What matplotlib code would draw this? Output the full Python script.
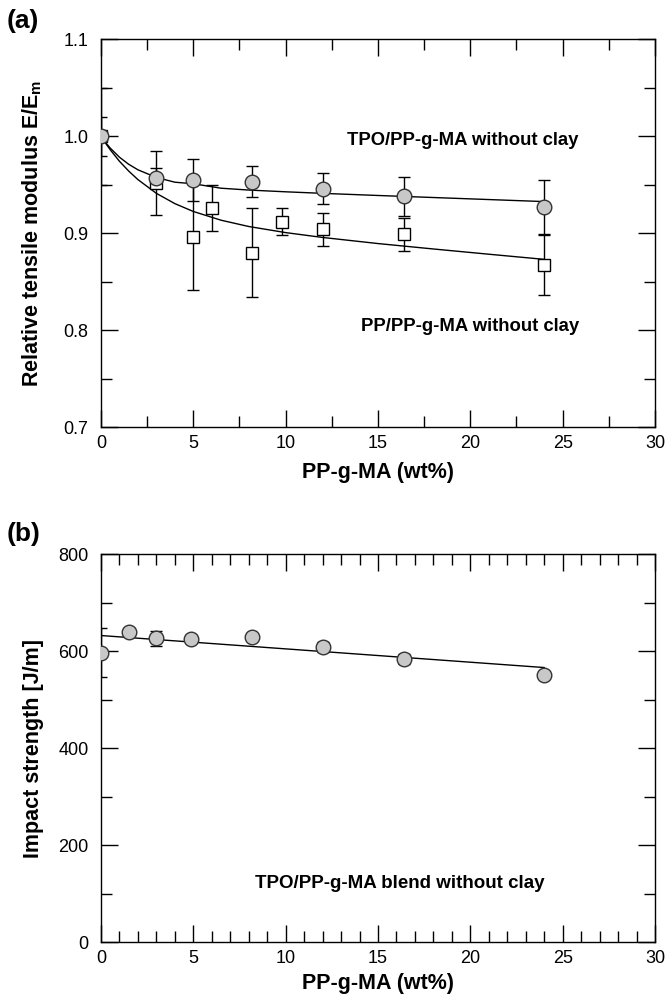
import matplotlib
matplotlib.use("Agg")
import matplotlib.pyplot as plt
from matplotlib.ticker import MultipleLocator, FormatStrFormatter

plt.rcParams["font.family"] = ["Liberation Sans", "DejaVu Sans"]

# (a) relative tensile modulus
tpo_x = [0, 3, 5, 8.2, 12, 16.4, 24]
tpo_y = [1.0, 0.957, 0.955, 0.953, 0.946, 0.938, 0.927]
tpo_err = [0.02, 0.01, 0.022, 0.016, 0.016, 0.02, 0.028]

pp_x = [0, 3, 5, 6, 8.2, 9.8, 12, 16.4, 24]
pp_y = [1.0, 0.952, 0.896, 0.926, 0.880, 0.912, 0.904, 0.899, 0.867]
pp_err = [0.05, 0.033, 0.055, 0.024, 0.046, 0.014, 0.017, 0.017, 0.031]

# fitted curves
fit_x = [0, 0.25, 0.5, 1, 1.5, 2, 3, 4, 5, 6.5, 8, 10, 12, 15, 18, 21, 24]
tpo_fit = [1.0, 0.9935, 0.9878, 0.9784, 0.9711, 0.9654, 0.9575, 0.9526, 0.951,
           0.9464, 0.9445, 0.9427, 0.9411, 0.9389, 0.9368, 0.9347, 0.9326]
pp_fit = [1.0, 0.9928, 0.9861, 0.9742, 0.9641, 0.9553, 0.9411, 0.9305, 0.9224,
          0.9134, 0.9069, 0.9006, 0.8956, 0.8893, 0.8837, 0.8783, 0.873]

# (b) impact strength
imp_x = [0, 1.5, 3, 4.9, 8.2, 12, 16.4, 24]
imp_y = [597, 640, 626, 625, 630, 608, 584, 551]
imp_err = [51, 8, 15, 8, 6, 10, 10, 6]
imp_fit_x = [0, 24]
imp_fit_y = [632, 566]

GRAY = "#c8c8c8"


def style_axes(ax, xminor, ymajor, yminor):
    ax.set_xlim(0, 30)
    ax.xaxis.set_major_locator(MultipleLocator(5))
    ax.xaxis.set_minor_locator(MultipleLocator(xminor))
    ax.yaxis.set_major_locator(MultipleLocator(ymajor))
    ax.yaxis.set_minor_locator(MultipleLocator(yminor))
    ax.tick_params(which="both", direction="in", top=True, right=True,
                   width=1.0, labelsize=13)
    ax.tick_params(axis="y", pad=9)
    ax.tick_params(axis="x", pad=6)
    ax.tick_params(which="major", length=12)
    ax.tick_params(which="minor", length=8)
    for sp in ax.spines.values():
        sp.set_linewidth(1.0)


fig = plt.figure(figsize=(6.67, 10.01), dpi=100)
ax_a = fig.add_axes([0.1514, 0.5734, 0.8306, 0.3873])
ax_b = fig.add_axes([0.1514, 0.0589, 0.8306, 0.3876])

# panel (a)
ax_a.plot(fit_x, tpo_fit, color="k", lw=1.0, zorder=2)
ax_a.plot(fit_x, pp_fit, color="k", lw=1.0, zorder=2)
ax_a.errorbar(pp_x, pp_y, yerr=pp_err, fmt="none", ecolor="k", elinewidth=1.0,
              capsize=4.5, capthick=1.0, zorder=3)
ax_a.errorbar(tpo_x, tpo_y, yerr=tpo_err, fmt="none", ecolor="k", elinewidth=1.0,
              capsize=4.5, capthick=1.0, zorder=3)
ax_a.plot(pp_x, pp_y, "s", ms=8.5, mfc="white", mec="k", mew=1.0, zorder=4)
ax_a.plot(tpo_x, tpo_y, "o", ms=10.5, mfc=GRAY, mec="#333333", mew=1.0, zorder=5)
ax_a.set_ylim(0.7, 1.1)
style_axes(ax_a, 2.5, 0.1, 0.05)
ax_a.yaxis.set_major_formatter(FormatStrFormatter("%.1f"))
ax_a.set_xlabel("PP-g-MA (wt%)", fontsize=15.5, fontweight="bold")
ax_a.set_ylabel("Relative tensile modulus E/E$_\\mathregular{m}$", fontsize=15.5,
                fontweight="bold")
ax_a.xaxis.set_label_coords(0.5, -0.09)
ax_a.yaxis.set_label_coords(-0.102, 0.5)
ax_a.text(19.6, 0.996, "TPO/PP-g-MA without clay", fontsize=13.3, fontweight="bold",
          ha="center", va="center")
ax_a.text(20.0, 0.804, "PP/PP-g-MA without clay", fontsize=13.3, fontweight="bold",
          ha="center", va="center")

# panel (b)
ax_b.plot(imp_fit_x, imp_fit_y, color="k", lw=1.0, zorder=2)
ax_b.errorbar(imp_x, imp_y, yerr=imp_err, fmt="none", ecolor="k", elinewidth=1.0,
              capsize=4.5, capthick=1.0, zorder=3)
ax_b.plot(imp_x, imp_y, "o", ms=10.5, mfc=GRAY, mec="#333333", mew=1.0, zorder=5)
ax_b.set_ylim(0, 800)
style_axes(ax_b, 1, 200, 100)
ax_b.set_xlabel("PP-g-MA (wt%)", fontsize=15.5, fontweight="bold")
ax_b.set_ylabel("Impact strength [J/m]", fontsize=15.5, fontweight="bold")
ax_b.xaxis.set_label_coords(0.5, -0.08)
ax_b.yaxis.set_label_coords(-0.102, 0.5)
ax_b.text(16.2, 120, "TPO/PP-g-MA blend without clay", fontsize=13.5,
          fontweight="bold", ha="center", va="center")

fig.text(0.01, 0.979, "(a)", fontsize=19, fontweight="bold", ha="left", va="center")
fig.text(0.01, 0.467, "(b)", fontsize=19, fontweight="bold", ha="left", va="center")

plt.savefig("out.png", dpi=100)
plt.close()
